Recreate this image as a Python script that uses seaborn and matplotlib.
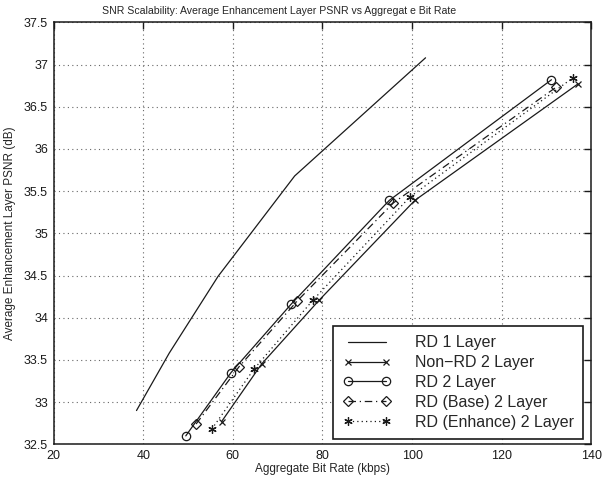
import matplotlib
matplotlib.use("Agg")
import matplotlib.pyplot as plt
import seaborn as sns
from matplotlib.ticker import FixedLocator, FuncFormatter

# Rate (kbps) / PSNR (dB) curves
rd1_rate = [38.5, 45.8, 56.7, 73.8, 103.0]
rd1_psnr = [32.90, 33.58, 34.49, 35.68, 37.08]

nonrd_rate = [57.5, 66.4, 79.3, 100.6, 137.0]
nonrd_psnr = [32.77, 33.45, 34.21, 35.39, 36.77]

rd2_rate = [49.5, 59.6, 73.0, 94.9, 131.1]
rd2_psnr = [32.60, 33.35, 34.16, 35.39, 36.82]

base_rate = [51.8, 61.4, 74.4, 95.8, 132.1]
base_psnr = [32.74, 33.42, 34.20, 35.36, 36.73]

enh_rate = [55.3, 64.7, 77.9, 99.5, 135.8]
enh_psnr = [32.68, 33.39, 34.21, 35.43, 36.84]

series_labels = ["RD 1 Layer", "Non\u2212RD 2 Layer", "RD 2 Layer",
                 "RD (Base) 2 Layer", "RD (Enhance) 2 Layer"]

x_ticks = [20, 40, 60, 80, 100, 120, 140]
y_ticks = [32.5, 33, 33.5, 34, 34.5, 35, 35.5, 36, 36.5, 37, 37.5]

sns.set_theme(style="white")
plt.rcParams["font.family"] = ["Liberation Sans", "DejaVu Sans"]

fig = plt.figure(figsize=(6.09, 4.8), dpi=100)
ax = fig.add_axes([0.088, 0.0744, 0.883, 0.879])

common = dict(ax=ax, color="k", sort=False, estimator=None, linewidth=0.9,
              markeredgecolor="k", markeredgewidth=0.9)

sns.lineplot(x=rd1_rate, y=rd1_psnr, label=series_labels[0], linestyle="-", **common)
sns.lineplot(x=nonrd_rate, y=nonrd_psnr, label=series_labels[1], linestyle="-",
             marker="x", markersize=5, **common)
sns.lineplot(x=rd2_rate, y=rd2_psnr, label=series_labels[2], linestyle="-",
             marker="o", markersize=6, markerfacecolor="none", **common)
sns.lineplot(x=base_rate, y=base_psnr, label=series_labels[3],
             linestyle=(0, (6, 3, 1, 3)),
             marker="D", markersize=5, markerfacecolor="none", **common)
sns.lineplot(x=enh_rate, y=enh_psnr, label=series_labels[4],
             linestyle=(0, (1, 2.5)),
             marker=(6, 2, 0), markersize=6, **common)

ax.set_xlim(20, 140)
ax.set_ylim(32.5, 37.5)
ax.xaxis.set_major_locator(FixedLocator(x_ticks))
ax.yaxis.set_major_locator(FixedLocator(y_ticks))
ax.yaxis.set_major_formatter(FuncFormatter(lambda v, p: f"{v:g}"))
ax.xaxis.set_major_formatter(FuncFormatter(lambda v, p: f"{v:g}"))

ax.grid(True, linestyle=(0, (1, 3)), color="#666666", linewidth=0.8)
ax.tick_params(direction="in", length=5, width=1, top=True, right=True,
               labelsize=9, colors="k", pad=4)
for s in ax.spines.values():
    s.set_color("k")
    s.set_linewidth(1.1)

ax.set_xlabel("Aggregate Bit Rate (kbps)", fontsize=8.5, labelpad=1)
ax.set_ylabel("Average Enhancement Layer PSNR (dB)", fontsize=8.5, labelpad=6)
ax.set_title("SNR Scalability: Average Enhancement Layer PSNR vs Aggregat e Bit Rate",
             fontsize=7.6, pad=6, x=0.42)

leg = ax.legend(loc="lower left", bbox_to_anchor=(0.52, 0.012), numpoints=2,
                fontsize=11.5, frameon=True, fancybox=False, framealpha=1,
                edgecolor="k", handlelength=3.0, labelspacing=0.3,
                borderpad=0.6, handletextpad=1.5, borderaxespad=0)
leg.get_frame().set_linewidth(1.2)

fig.savefig("out.png", dpi=100)
